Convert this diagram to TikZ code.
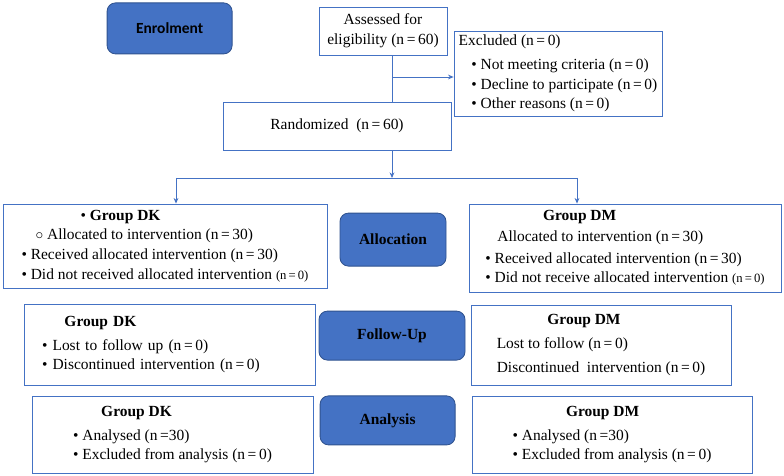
\documentclass[tikz,border=0pt]{standalone}
\usepackage{fontspec}
\setmainfont{Liberation Serif}
\newfontfamily\calibri{Carlito}
\usetikzlibrary{arrows.meta, positioning}
\definecolor{phasecolor}{RGB}{68,114,196}
\definecolor{phaseedge}{RGB}{47,82,143}
\definecolor{linkcolor}{RGB}{68,114,196}

\begin{document}
\begin{tikzpicture}[
    phase/.style={draw=phaseedge, line width=0.6pt, fill=phasecolor, rounded corners=6pt, font=\fontsize{11}{14}\selectfont\bfseries, align=center},
    panel/.style={draw=linkcolor, line width=0.6pt, inner ysep=2pt, font=\fontsize{11}{14}\selectfont, align=left},
    arrow/.style={-{Stealth[length=1.4mm, width=1.2mm]}, draw=linkcolor, line width=0.6pt},
    link/.style={draw=linkcolor, line width=0.6pt}
]
    \useasboundingbox (0,0) rectangle (19.6,-11.9);

    % Phase labels
    \node[phase, minimum width=3.125cm, minimum height=1.275cm, font=\calibri\fontsize{11}{14}\selectfont\bfseries] (enrol) at (4.24,-0.71) {Enrolment};
    \node[phase, minimum width=2.65cm, minimum height=1.325cm] (alloc) at (9.825,-5.99) {Allocation};
    \node[phase, minimum width=3.65cm, minimum height=1.225cm] (follow) at (9.8,-8.39) {Follow-Up};
    \node[phase, minimum width=3.375cm, minimum height=1.225cm] (analysis) at (9.69,-10.51) {Analysis};

    % Enrolment
    \node[panel, align=center, minimum width=3.2cm, minimum height=1.2cm] (assess) at (9.575,-0.775) {Assessed for\\eligibility (n\,=\,60)};
    \node[panel, minimum width=4.95cm, minimum height=2.125cm] (excl) at (13.95,-1.84) {Excluded (n\,=\,0)\\[3pt]
        \hspace*{9pt}\textbullet\ Not meeting criteria (n\,=\,0)\\
        \hspace*{9pt}\textbullet\ Decline to participate (n\,=\,0)\\
        \hspace*{9pt}\textbullet\ Other reasons (n\,=\,0)};
    \node[panel, align=center, minimum width=5.7cm, minimum height=1.2cm] (rand) at (8.425,-3.15) {Randomized\ \ (n\,=\,60)};

    % Allocation
    \node[panel, minimum width=8.1cm, minimum height=2.1cm] (dkalloc) at (4.125,-6.15) {\hspace*{42pt}\textbullet\ \textbf{Group DK}\\
        \hspace*{10pt}$\circ$\ Allocated to intervention (n\,=\,30)\\
        \textbullet\ Received allocated intervention (n\,=\,30)\\
        \textbullet\ Did not received allocated intervention {\small(n\,=\,0)}};
    \node[panel, minimum width=7.8cm, minimum height=2.2cm] (dmalloc) at (15.625,-6.2) {\hspace*{41pt}\textbf{Group DM}\\[1pt]
        \hspace*{8.5pt}Allocated to intervention (n\,=\,30)\\[1pt]
        \textbullet\ Received allocated intervention (n\,=\,30)\\
        \textbullet\ Did not receive allocated intervention {\small(n\,=\,0)}};

    % Follow-up
    \node[panel, text width=6.375cm, inner xsep=0.45cm, minimum height=2.025cm] (dkfollow) at (4.2375,-8.6125) {\hspace*{16pt}\textbf{Group DK}\\[3pt]
        \textbullet\ Lost to follow up\ (n\,=\,0)\\
        \textbullet\ Discontinued intervention (n\,=\,0)};
    \node[panel, minimum width=6.5cm, minimum height=2.0cm] (dmfollow) at (15.025,-8.625) {\hspace*{36pt}\textbf{Group DM}\\[3pt]
        Lost to follow (n\,=\,0)\\[3pt]
        Discontinued\ \ intervention (n\,=\,0)};

    % Analysis
    \node[panel, minimum width=7.025cm, minimum height=1.925cm] (dkanalysis) at (4.3125,-10.8625) {\hspace*{20pt}\textbf{Group DK}\\[3pt]
        \textbullet\ Analysed (n\,=30)\\
        \textbullet\ Excluded from analysis (n\,=\,0)};
    \node[panel, minimum width=7.0cm, minimum height=1.925cm] (dmanalysis) at (15.3,-10.8625) {\hspace*{38pt}\textbf{Group DM}\\[3pt]
        \textbullet\ Analysed (n\,=30)\\
        \textbullet\ Excluded from analysis (n\,=\,0)};

    % Connections
    \coordinate (spine) at (9.8,-1.925);
    \coordinate (split) at (9.8,-4.45);
    \coordinate (dkdrop) at (4.4,-4.45);
    \coordinate (dmdrop) at (14.425,-4.45);
    \draw[link] (assess.south -| spine) -- (rand.north -| spine);
    \draw[arrow] (spine) -- (spine -| excl.west);
    \draw[arrow] (rand.south -| split) -- (split);
    \draw[link] (dkdrop) -- (dmdrop);
    \draw[arrow] (dkdrop) -- (dkdrop |- dkalloc.north);
    \draw[arrow] (dmdrop) -- (dmdrop |- dmalloc.north);
\end{tikzpicture}
\end{document}
